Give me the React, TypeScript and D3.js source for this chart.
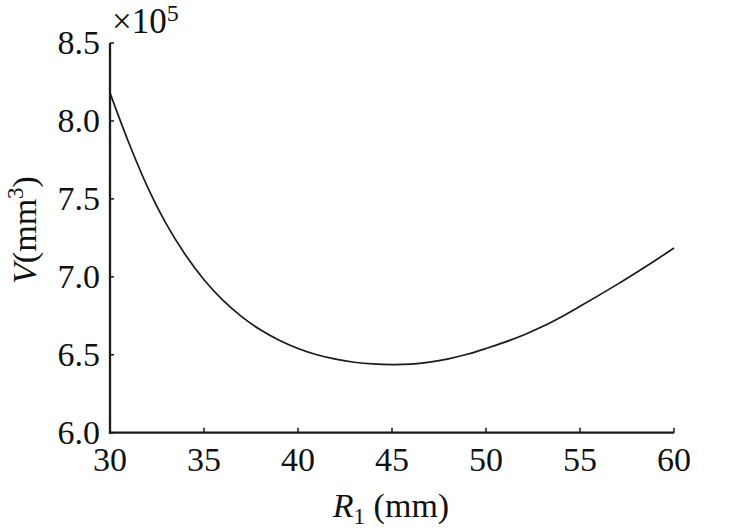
import React from "react";
import * as d3 from "d3";

const rValues = [30, 31, 32, 33, 34, 35, 36, 37, 38, 39, 40, 41, 42, 43, 44, 45, 46, 47, 48, 49, 50, 51, 52, 53, 54, 55, 56, 57, 58, 59, 60];
const vValues = [8.18, 7.86, 7.575, 7.338, 7.143, 6.981, 6.85, 6.745, 6.66, 6.593, 6.54, 6.5, 6.472, 6.452, 6.441, 6.437, 6.44, 6.453, 6.474, 6.503, 6.54, 6.581, 6.627, 6.681, 6.743, 6.811, 6.881, 6.953, 7.028, 7.105, 7.185];
const xTicks = [30, 35, 40, 45, 50, 55, 60];
const yTicks = [6.0, 6.5, 7.0, 7.5, 8.0, 8.5];

const W = 744;
const H = 532;
const FONT = "'Liberation Serif', 'Times New Roman', serif";

export default function App() {
  const x = d3.scaleLinear().domain([30, 60]).range([110, 674]);
  const y = d3.scaleLinear().domain([6.0, 8.5]).range([432.7, 43]);
  const line = d3
    .line<number>()
    .x((_, i) => x(rValues[i]))
    .y((d) => y(d))
    .curve(d3.curveCatmullRom);
  const path = line(vValues) || "";
  const x0 = x(30);
  const y0 = y(6.0);
  return (
    <svg
      width={W}
      height={H}
      style={{ position: "absolute", left: 0, top: 0, background: "#fff", fontFamily: FONT }}
    >
      <rect x={0} y={0} width={W} height={H} fill="#fff" />
      {/* curve */}
      <path d={path} fill="none" stroke="#1a1a1a" strokeWidth={1.7} />
      {/* axes */}
      <line x1={x0} y1={y(8.5)} x2={x0} y2={y0 + 1} stroke="#1a1a1a" strokeWidth={2.3} />
      <line x1={x0 - 1} y1={y0} x2={x(60)} y2={y0} stroke="#1a1a1a" strokeWidth={2.3} />
      {/* y ticks */}
      {yTicks.map((t) => (
        <g key={"y" + t}>
          <line x1={x0} y1={y(t)} x2={x0 + 4} y2={y(t)} stroke="#1a1a1a" strokeWidth={1.5} />
          <text x={100} y={y(t) + 11} textAnchor="end" fontSize={34} fill="#111">
            {t.toFixed(1)}
          </text>
        </g>
      ))}
      {/* x ticks */}
      {xTicks.map((t) => (
        <g key={"x" + t}>
          <line x1={x(t)} y1={y0} x2={x(t)} y2={y0 - 5} stroke="#1a1a1a" strokeWidth={1.5} />
          <text x={x(t)} y={y0 + 38} textAnchor="middle" fontSize={34} fill="#111">
            {t}
          </text>
        </g>
      ))}
      {/* exponent */}
      <text x={112} y={33} fontSize={35} fill="#111">
        ×10
        <tspan fontSize={24} dy={-12}>5</tspan>
      </text>
      {/* x label */}
      <text x={391} y={517} textAnchor="middle" fontSize={34} fill="#111">
        <tspan fontStyle="italic">R</tspan>
        <tspan fontSize={23} dy={7}>1</tspan>
        <tspan dy={-7}> (mm)</tspan>
      </text>
      {/* y label */}
      <text
        transform={`translate(36, 230) rotate(-90)`}
        textAnchor="middle"
        fontSize={34}
        fill="#111"
      >
        <tspan fontStyle="italic">V</tspan>
        <tspan>(mm</tspan>
        <tspan fontSize={23} dy={-13}>3</tspan>
        <tspan dy={13}>)</tspan>
      </text>
    </svg>
  );
}
